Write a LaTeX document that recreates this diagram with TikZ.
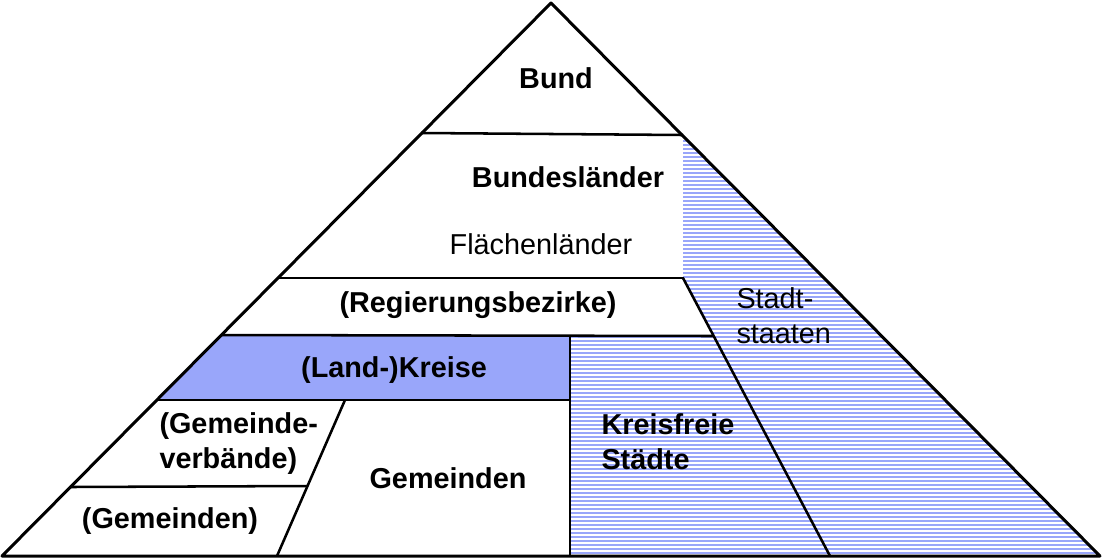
\documentclass[tikz,border=0pt]{standalone}
\usepackage{fontspec}
\setmainfont{Liberation Sans}
\definecolor{kreisblau}{RGB}{153,166,250}

\tikzset{every picture/.style={line width=0.75pt}}
\tikzset{
  kante/.style={draw=black, line width=2.25pt, line join=round},
  linie/.style={draw=black, line width=1.9pt},
  schraffur/.style={draw=kreisblau, line width=1.6pt},
  ebene/.style={inner sep=0pt, anchor=base, font=\fontsize{21.6}{26}\selectfont\bfseries},
  ebenelinks/.style={inner sep=0pt, anchor=base west, align=left, font=\fontsize{21.6}{26}\selectfont\bfseries},
}

\begin{document}
\begin{tikzpicture}[x=0.75pt,y=0.75pt,yscale=-1,xscale=1]
\useasboundingbox (0,0) rectangle (1103,558);

%Shape: Hatched region (Stadtstaaten, Kreisfreie Staedte)
\begin{scope}
\clip (683,135) -- (683,278) -- (714,336) -- (570,336) -- (570,556) -- (1100,556) -- cycle;
\foreach \y in {137,141,...,557}
  \draw [schraffur] (560,\y) -- (1100,\y);
\end{scope}
%Shape: (Land-)Kreise
\fill [kreisblau] (221,336) -- (570,336) -- (570,400) -- (157,400) -- cycle;

%Shape: inner lines
\draw [linie] (421,133) -- (683,135);
\draw [linie] (278,278) -- (684,278);
\draw [linie] (683,278) -- (830,556);
\draw [linie] (221,335) -- (714,336);
\draw [linie] (570,336) -- (570,556);
\draw [linie] (157,400) -- (570,400);
\draw [linie] (345,400) -- (277,556);
\draw [linie] (70,487) -- (308,486);

%Shape: Pyramid
\draw [kante] (551,3) -- (1100,556) -- (2,556) -- cycle;

% Text Node
\draw (556,88) node (bund) [ebene] {Bund};
% Text Node
\draw (568,187) node (laender) [ebene] {Bundesländer};
% Text Node
\draw (541,254) node (flaechen) [ebene, font=\fontsize{21.6}{26}\selectfont] {Flächenländer};
% Text Node
\draw (478,312) node (rbez) [ebene] {(Regierungsbezirke)};
% Text Node
\draw (394,377) node (kreise) [ebene] {(Land-)Kreise};
% Text Node
\draw (159,468) node (gverb) [ebenelinks] {(Gemeinde-\\verbände)};
% Text Node
\draw (170,528) node (gemklein) [ebene] {(Gemeinden)};
% Text Node
\draw (448,488) node (gemeinden) [ebene] {Gemeinden};
% Text Node
\draw (601,469) node (kfstaedte) [ebenelinks] {Kreisfreie\\Städte};
% Text Node
\draw (736,343) node (stadtstaaten) [ebenelinks, font=\fontsize{21.6}{26}\selectfont] {Stadt-\\staaten};

\end{tikzpicture}
\end{document}
